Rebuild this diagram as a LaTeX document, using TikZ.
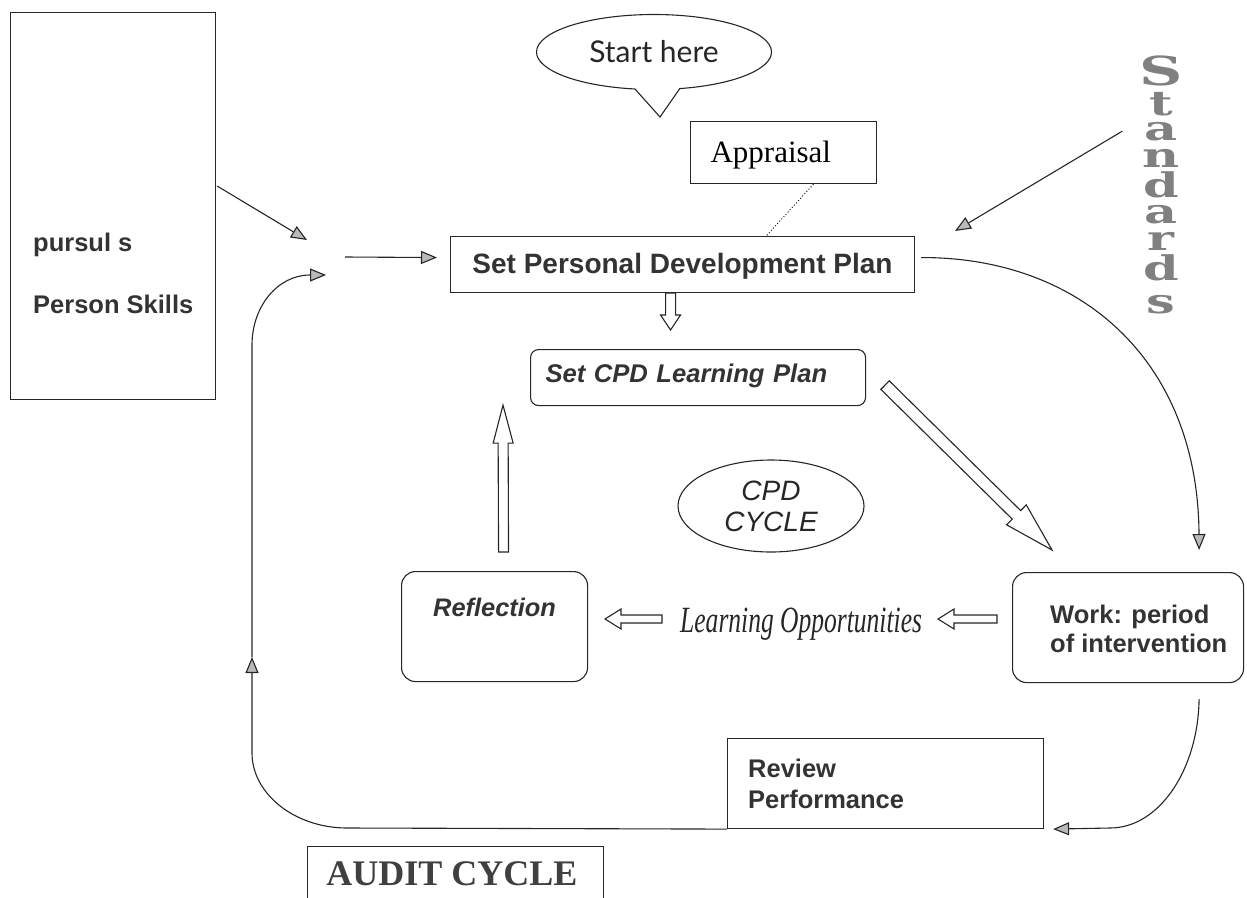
\documentclass[tikz,border=0pt]{standalone}
\usepackage{fontspec}
\setmainfont{Liberation Serif}
\newfontfamily\arialf{Liberation Sans}
\newfontfamily\slabf[FakeStretch=1.5]{DejaVu Serif}
\newfontfamily\condf[FakeStretch=0.69]{Liberation Serif}
\newfontfamily\handf{Lato}
\usetikzlibrary{arrows.meta,calc,shapes.geometric,shapes.callouts}
\tikzset{
  gtip/.tip={Triangle[length=16pt,width=13pt,fill=gray!55]},
  boxed/.style={draw=black!85, line width=1.1pt, inner sep=0pt},
  sanstxt/.style={font=\arialf\bfseries\fontsize{25.5}{30}\selectfont, text=black!80},
  conn/.style={draw=black!85, line width=1.1pt},
  hollow/.style={draw=black!85, fill=white, line width=1.1pt, line join=miter},
  stdletter/.style={inner sep=0pt, anchor=base, text=black!50, font=\slabf\bfseries\fontsize{34}{34}\selectfont},
}
\newcommand\hollowarrow[5]{%
  \coordinate (ha) at (#1);
  \coordinate (hz) at (#2);
  \coordinate (hb) at ($(hz)!#5!(ha)$);
  \draw[hollow] ($(ha)!#3!90:(hz)$) -- ($(hb)!#3!90:(hz)$) -- ($(hb)!#4!90:(hz)$) -- (hz)
     -- ($(hb)!#4!-90:(hz)$) -- ($(hb)!#3!-90:(hz)$) -- ($(ha)!#3!-90:(hz)$) -- cycle;
}
\begin{document}
\begin{tikzpicture}[x=1pt,y=-1pt]
\useasboundingbox (0,0) rectangle (1247,897);

% left box
\node[boxed, anchor=north west, minimum width=205pt, minimum height=387pt] (skills) at (10,12) {};
\node[sanstxt, anchor=base west, inner sep=0pt] (pursuits) at (33,251) {pursul s};
\node[sanstxt, anchor=base west, inner sep=0pt] (person) at (33,313) {Person Skills};

% start here callout
\node[ellipse callout, draw=black!85, line width=1.1pt, minimum width=235pt, minimum height=75pt, inner sep=0pt,
      callout absolute pointer={(660,117)}, callout pointer arc=22,
      font=\handf\fontsize{30}{34}\selectfont, text=black!85] (start) at (654,52) {Start here};

% appraisal
\node[boxed, anchor=north west, text width=146pt, align=left, inner xsep=20pt, inner ysep=0pt,
      text height=41pt, text depth=21pt, font=\fontsize{31}{35}\selectfont] (appr) at (690,121) {Appraisal};

% SPDP
\node[boxed, anchor=north west, minimum width=464pt, text height=37pt, text depth=19pt,
      font=\arialf\bfseries\fontsize{28}{32}\selectfont, text=black!80] (spdp) at (450,236) {Set Personal Development Plan};

% Standards (vertical stack of letters)
\node[stdletter, font=\slabf\bfseries\fontsize{40}{40}\selectfont] (std1) at (1161,85) {S};
\node[stdletter] (std2) at (1161,115) {t};
\node[stdletter] (std3) at (1161,140) {a};
\node[stdletter] (std4) at (1161,167) {n};
\node[stdletter] (std5) at (1161,197) {d};
\node[stdletter] (std6) at (1161,223) {a};
\node[stdletter] (std7) at (1161,250) {r};
\node[stdletter] (std8) at (1161,280) {d};
\node[stdletter] (std9) at (1161,313) {s};

% CPD plan
\node[boxed, rounded corners=8pt, anchor=north west, text width=305pt, align=left, inner xsep=15pt, inner ysep=0pt,
      text height=33pt, text depth=23pt, font=\arialf\bfseries\itshape\fontsize{25.6}{30}\selectfont, text=black!80] (cpdplan) at (530,349) {Set CPD Learning Plan};

% CPD cycle
\node[draw=black!85, line width=1.1pt, ellipse, minimum width=186pt, minimum height=92pt, inner sep=0pt, align=center,
      font=\arialf\itshape\fontsize{28}{31}\selectfont, text=black!85] (cpdcycle) at (771,506) {CPD\\CYCLE};

% Reflection
\node[boxed, rounded corners=14pt, anchor=north west, minimum width=186pt, text height=45pt, text depth=65pt,
      font=\arialf\bfseries\itshape\fontsize{25.4}{30}\selectfont, text=black!80] (refl) at (401,571) {Reflection};

% Learning opportunities
\node[inner sep=0pt, anchor=base west, font=\condf\itshape\fontsize{37}{40}\selectfont, text=black!85] (learn) at (680,632) {Learning Opportunities};

% Work
\node[boxed, rounded corners=14pt, anchor=north west, minimum width=231pt, minimum height=110pt] (work) at (1012,572) {};
\node[sanstxt, align=left, anchor=north west, inner sep=0pt, font=\arialf\bfseries\fontsize{25.5}{29}\selectfont] (worktxt) at (1050,604.5) {Work: period\\of intervention};

% Review
\node[boxed, anchor=north west, minimum width=316pt, minimum height=90pt] (review) at (727,738) {};
\node[sanstxt, align=left, anchor=north west, inner sep=0pt, font=\arialf\bfseries\fontsize{25.5}{31}\selectfont] (reviewtxt) at (748,758.5) {Review\\Performance};

% Audit cycle
\node[boxed, anchor=north west, minimum width=296pt, minimum height=53pt] (audit) at (307,846) {};
\node[inner sep=0pt, anchor=base, font=\bfseries\fontsize{36}{40}\selectfont, text=black!75] (audittxt) at (452,885) {AUDIT CYCLE};

% coordinates
\coordinate (a1s) at ($(skills.north east)+(1,174)$);
\coordinate (a1e) at (307,240);
\coordinate (a2s) at (345,257);
\coordinate (a2e) at ($(spdp.west)+(-13,-7)$);
\coordinate (stdsarrow) at ($(std3.west)+(-22,0)$);
\coordinate (stdstip) at (955,231);
\coordinate (l1) at (347,828);
\coordinate (l2) at (252,753);
\coordinate (l3) at (252,657);
\coordinate (l4) at (252,345);
\coordinate (l5) at (310,275);
\coordinate (l6) at (326,275);
\coordinate (w1) at ($(work.south east)+(-45,16)$);
\coordinate (w2) at (1110,828);
\coordinate (rvtip) at ($(review.south east)+(9,0)$);
\coordinate (p1) at ($(spdp.east)+(6,-7)$);
\coordinate (p2) at ($(work.north east)+(-45,-22)$);
\coordinate (h4s) at (997,619);
\coordinate (h4e) at (938,619);
\coordinate (h5s) at (662,619);
\coordinate (h5e) at (605,619);

% connectors
\draw[conn,-gtip] (a1s) -- (a1e);
\draw[conn,-gtip] (a2s) -- (a2e);
\draw[conn,-gtip] (stdsarrow) -- (stdstip);
\draw[conn,-gtip] (review.south west) -- (l1) .. controls (295,828) and (252,794) .. (l2) -- (l3);
\draw[conn,-gtip] (l3) -- (l4) .. controls (252,306) and (278,275) .. (l5) -- (l6);
\draw[conn,-gtip] (w1) .. controls (1198,770) and (1159,828) .. (w2) -- (rvtip);
\draw[conn,-gtip] (p1) .. controls (1080,257) and (1198,360) .. (p2);
\draw[conn, dotted, line width=1pt] ($(appr.south west)!0.66!(appr.south east)$) -- ($(spdp.north west)!0.68!(spdp.north east)$);

% hollow block arrows
\hollowarrow{$(spdp.south)+(-12,0)$}{$(cpdplan.north)+(-27.5,-19)$}{5pt}{10pt}{15pt}
\hollowarrow{$(refl.north)+(9,-19)$}{$(cpdplan.south west)+(-27,-1)$}{5pt}{10pt}{38pt}
\hollowarrow{$(cpdplan.south east)+(19,-21)$}{$(work.north west)+(40,-22)$}{6pt}{14pt}{50pt}
\hollowarrow{h4s}{h4e}{4pt}{10pt}{16pt}
\hollowarrow{h5s}{h5e}{4pt}{10pt}{16pt}
\end{tikzpicture}
\end{document}
